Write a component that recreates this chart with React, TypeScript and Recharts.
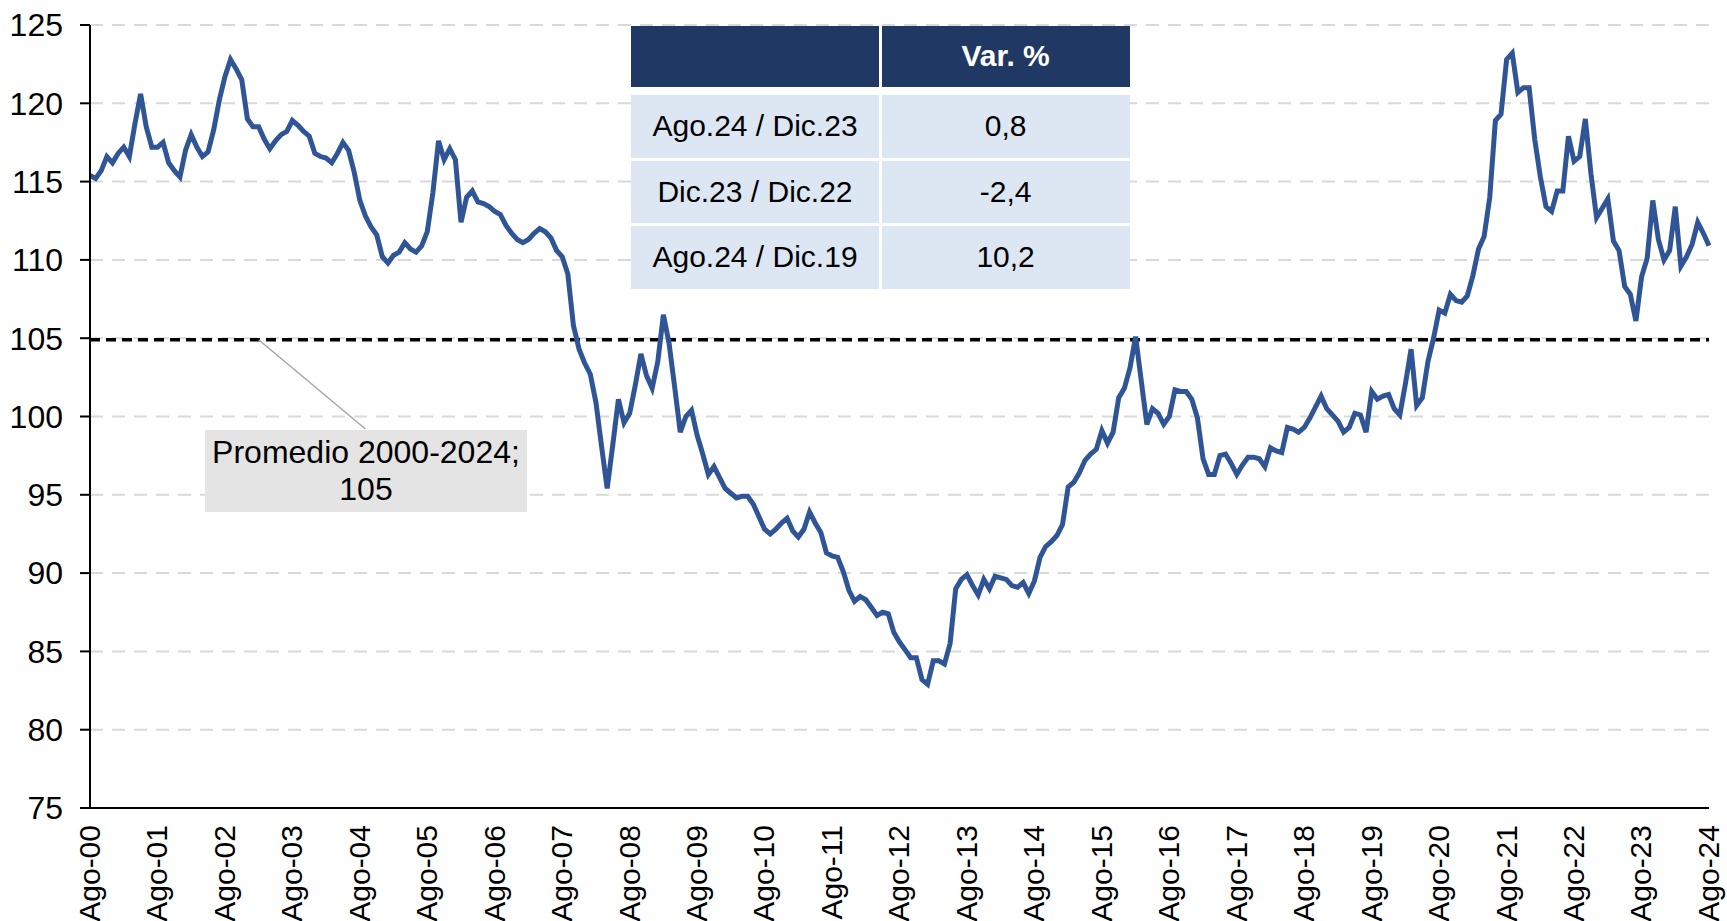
import React from 'react';
import { LineChart, Line, XAxis, YAxis, CartesianGrid, ReferenceLine } from 'recharts';

const FONT = '"Liberation Sans", Arial, sans-serif';

// índice mensual, una fila por año (Ago ... Jul), último valor Ago-24
const indexValues = [
  115.4, 115.2, 115.7, 116.6, 116.2, 116.8, 117.2, 116.6, 118.7, 120.6, 118.5, 117.2,
  117.2, 117.5, 116.2, 115.7, 115.3, 117.0, 118.0, 117.2, 116.6, 116.9, 118.3, 120.2,
  121.7, 122.8, 122.2, 121.5, 119.0, 118.5, 118.5, 117.7, 117.1, 117.6, 118.0, 118.2,
  118.9, 118.6, 118.2, 117.9, 116.8, 116.6, 116.5, 116.2, 116.8, 117.5, 117.0, 115.6,
  113.8, 112.8, 112.1, 111.6, 110.2, 109.8, 110.3, 110.5, 111.1, 110.7, 110.5, 110.9,
  111.8, 114.3, 117.6, 116.4, 117.1, 116.4, 112.4, 114.0, 114.4, 113.7, 113.6, 113.4,
  113.1, 112.9, 112.2, 111.7, 111.3, 111.1, 111.3, 111.7, 112.0, 111.8, 111.4, 110.6,
  110.2, 109.1, 105.8, 104.3, 103.4, 102.7, 100.9, 98.1, 95.4, 98.2, 101.1, 99.6,
  100.2, 102.0, 104.0, 102.6, 101.8, 103.5, 106.5, 104.7, 101.9, 99.0, 100.0, 100.4,
  98.8, 97.6, 96.3, 96.8, 96.1, 95.4, 95.1, 94.8, 94.9, 94.9, 94.4, 93.6,
  92.8, 92.5, 92.8, 93.2, 93.5, 92.7, 92.3, 92.8, 93.9, 93.2, 92.6, 91.3,
  91.1, 91.0, 90.1, 88.9, 88.2, 88.5, 88.3, 87.8, 87.3, 87.5, 87.4, 86.2,
  85.6, 85.1, 84.6, 84.6, 83.2, 82.9, 84.4, 84.4, 84.2, 85.5, 89.0, 89.6,
  89.9, 89.2, 88.6, 89.6, 89.0, 89.8, 89.7, 89.6, 89.2, 89.1, 89.4, 88.7,
  89.5, 91.0, 91.7, 92.0, 92.4, 93.1, 95.5, 95.8, 96.4, 97.2, 97.6, 97.9,
  99.1, 98.3, 99.0, 101.2, 101.8, 103.1, 105.1, 102.3, 99.5, 100.5, 100.2, 99.5,
  100.0, 101.7, 101.6, 101.6, 101.1, 99.9, 97.3, 96.3, 96.3, 97.5, 97.6, 97.0,
  96.3, 96.9, 97.4, 97.4, 97.3, 96.8, 98.0, 97.8, 97.7, 99.3, 99.2, 99.0,
  99.3, 99.9, 100.6, 101.3, 100.5, 100.1, 99.7, 99.0, 99.3, 100.2, 100.1, 99.0,
  101.6, 101.1, 101.3, 101.4, 100.5, 100.1, 102.1, 104.3, 100.7, 101.2, 103.5, 105.0,
  106.8, 106.6, 107.8, 107.4, 107.3, 107.7, 109.0, 110.7, 111.5, 114.0, 118.9, 119.3,
  122.8, 123.2, 120.7, 121.0, 121.0, 117.7, 115.3, 113.4, 113.1, 114.4, 114.4, 117.9,
  116.3, 116.6, 119.0, 115.5, 112.7, 113.3, 113.9, 111.2, 110.6, 108.3, 107.8, 106.1,
  108.9, 110.1, 113.8, 111.3, 110.0, 110.6, 113.4, 109.6, 110.2, 111.0, 112.4, 111.7, 110.9,
];

const tickLabels = [
  'Ago-00', 'Ago-01', 'Ago-02', 'Ago-03', 'Ago-04', 'Ago-05', 'Ago-06', 'Ago-07', 'Ago-08',
  'Ago-09', 'Ago-10', 'Ago-11', 'Ago-12', 'Ago-13', 'Ago-14', 'Ago-15', 'Ago-16', 'Ago-17',
  'Ago-18', 'Ago-19', 'Ago-20', 'Ago-21', 'Ago-22', 'Ago-23', 'Ago-24',
];
const yTicks = [75, 80, 85, 90, 95, 100, 105, 110, 115, 120, 125];

const promedio = 104.9;
const promedioLabel = ['Promedio 2000-2024;', '105'];
// donde la línea guía toca el promedio y el recuadro (mes, valor)
const leaderFrom = { m: 30, v: promedio };
const leaderTo = { m: 49, v: 99.2 };

const tableHeader = 'Var. %';
const tablePeriods = ['Ago.24 / Dic.23', 'Dic.23 / Dic.22', 'Ago.24 / Dic.19'];
const tableChanges = ['0,8', '-2,4', '10,2'];

const data = indexValues.map((v, m) => ({ m, v }));
const xTicks = tickLabels.map((_, k) => k * 12);

const XTick = ({ x, y, payload }: any) => (
  <g transform={`translate(${x},${y})`}>
    <text
      transform="rotate(-90)"
      x={-17}
      y={0}
      dy="0.33em"
      textAnchor="end"
      fill="#000"
      fontSize={30}
      fontFamily={FONT}
    >
      {tickLabels[Math.round(payload.value / 12)]}
    </text>
  </g>
);

const cellBase: React.CSSProperties = {
  position: 'absolute',
  display: 'flex',
  alignItems: 'center',
  justifyContent: 'center',
  fontFamily: FONT,
  fontSize: 30,
  color: '#000',
};

const VarTable = () => {
  const left = 631;
  const colW = 248;
  const gap = 2.6;
  const rowTop = 95;
  const rowH = 62.5;
  const rowPitch = 65.5;
  return (
    <>
      <div style={{ ...cellBase, left, top: 25.5, width: colW, height: 61, background: '#203864' }} />
      <div
        style={{
          ...cellBase,
          left: left + colW + gap,
          top: 25.5,
          width: colW,
          height: 61,
          background: '#203864',
          color: '#fff',
          fontWeight: 'bold',
        }}
      >
        {tableHeader}
      </div>
      {tablePeriods.map((p, k) => (
        <React.Fragment key={p}>
          <div style={{ ...cellBase, left, top: rowTop + k * rowPitch, width: colW, height: rowH, background: '#dde7f4' }}>
            {p}
          </div>
          <div
            style={{
              ...cellBase,
              left: left + colW + gap,
              top: rowTop + k * rowPitch,
              width: colW,
              height: rowH,
              background: '#dde7f4',
            }}
          >
            {tableChanges[k]}
          </div>
        </React.Fragment>
      ))}
    </>
  );
};

export default function App() {
  return (
    <div style={{ position: 'absolute', left: 0, top: 0, width: 1727, height: 921, background: '#fff' }}>
      <LineChart width={1727} height={921} data={data} margin={{ top: 25, right: 18, bottom: 0, left: 0 }}>
        <CartesianGrid vertical={false} stroke="#d9d9d9" strokeWidth={2} strokeDasharray="13 9" />
        <XAxis
          dataKey="m"
          type="number"
          domain={[0, 288]}
          ticks={xTicks}
          interval={0}
          height={113}
          tickLine={false}
          tickSize={0}
          tickMargin={0}
          axisLine={{ stroke: '#000', strokeWidth: 2 }}
          tick={<XTick />}
        />
        <YAxis
          domain={[75, 125]}
          ticks={yTicks}
          interval={0}
          width={90}
          tickSize={10}
          tickMargin={17}
          axisLine={{ stroke: '#000', strokeWidth: 2 }}
          tickLine={{ stroke: '#000', strokeWidth: 2 }}
          tick={{ fill: '#000', fontSize: 32, fontFamily: FONT }}
        />
        <ReferenceLine y={promedio} stroke="#000" strokeWidth={3.5} strokeDasharray="10 6" />
        <ReferenceLine
          segment={[
            { x: leaderFrom.m, y: leaderFrom.v },
            { x: leaderTo.m, y: leaderTo.v },
          ]}
          stroke="#a6a6a6"
          strokeWidth={1.5}
        />
        <Line
          type="linear"
          dataKey="v"
          stroke="#2f5597"
          strokeWidth={5}
          dot={false}
          isAnimationActive={false}
        />
      </LineChart>
      <div
        style={{
          position: 'absolute',
          left: 205,
          top: 430,
          width: 322,
          height: 82,
          background: '#e4e4e4',
          display: 'flex',
          flexDirection: 'column',
          alignItems: 'center',
          justifyContent: 'center',
          fontFamily: FONT,
          fontSize: 32,
          lineHeight: '37px',
          color: '#000',
        }}
      >
        {promedioLabel.map((t) => (
          <div key={t}>{t}</div>
        ))}
      </div>
      <VarTable />
    </div>
  );
}
